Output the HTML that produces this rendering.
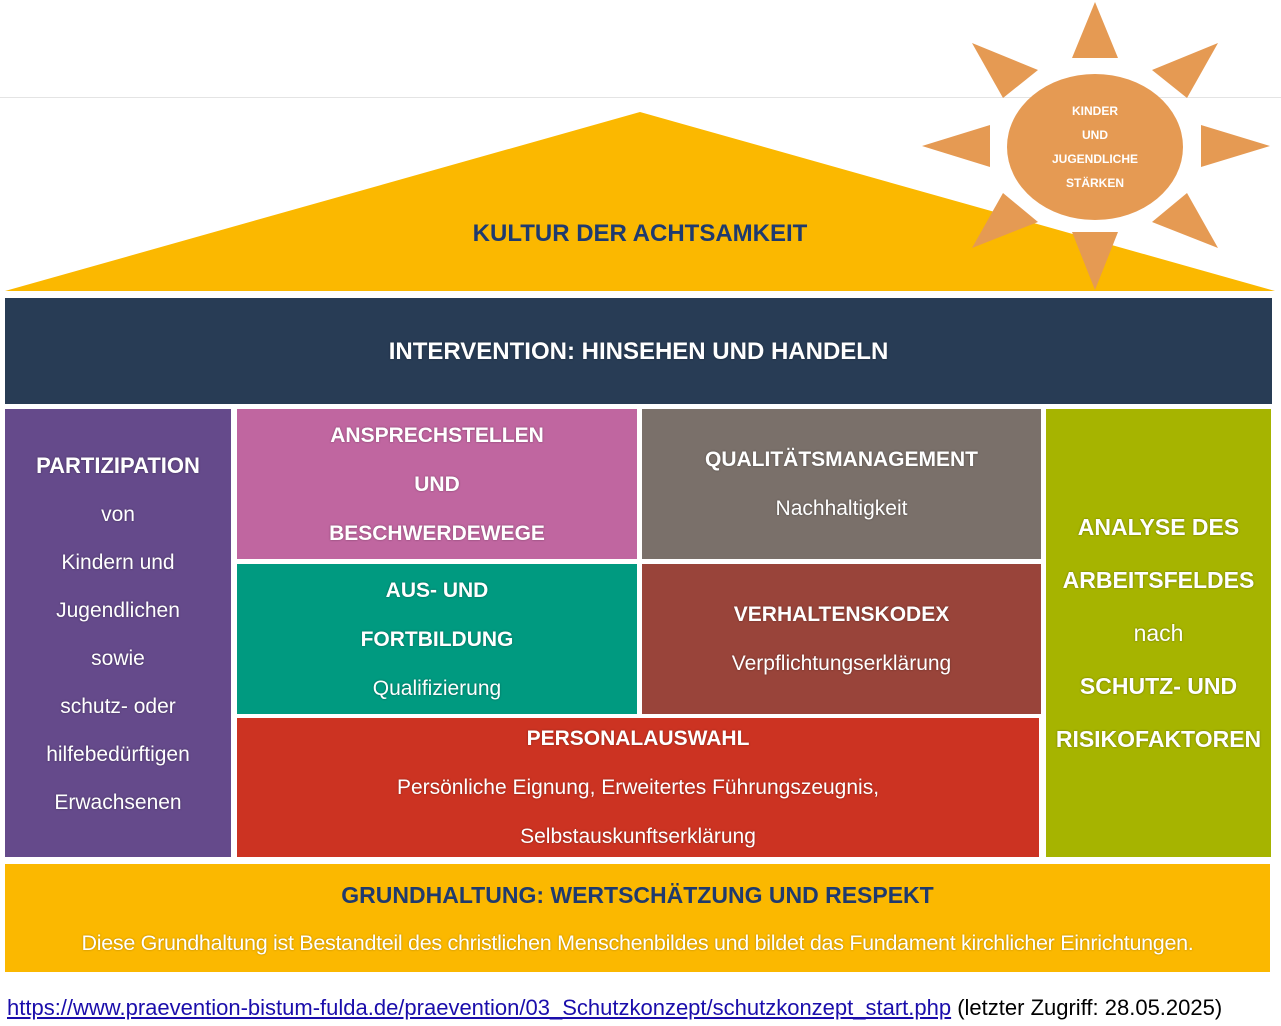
<!DOCTYPE html>
<html><head><meta charset="utf-8"><style>
body{margin:0;width:1281px;height:1026px;background:#fff;position:relative;overflow:hidden;font-family:"Liberation Sans",sans-serif}
.b{position:absolute;color:#fff;text-align:center;display:flex;flex-direction:column;justify-content:center;align-items:center;text-shadow:0 0 2px rgba(0,0,0,.35)}
.b div{line-height:49px;font-size:21px}
.h{font-weight:bold}
</style></head><body>
<div style="position:absolute;left:0;top:97px;width:1281px;height:1px;background:#e4e4e4"></div>
<svg style="position:absolute;left:0;top:0" width="1281" height="300">
<polygon points="5,291 640,112 1275,291" fill="#FBB800"/>
<g fill="#E59A53">
<ellipse cx="1095" cy="147" rx="88" ry="73"/>
<polygon points="1072,58 1118,58 1095,2"/>
<polygon points="1201,125 1201,167 1270,146"/>
<polygon points="990,125 990,167 922,146"/>
<polygon points="1072,232 1118,232 1095,290"/>
<polygon points="972,43 1038,70 1003,98"/>
<polygon points="1218,43 1152,70 1187,98"/>
<polygon points="972,248 1003,193 1038,222"/>
<polygon points="1218,248 1187,193 1152,222"/>
</g>
<g fill="#fff" font-family="Liberation Sans,sans-serif" font-weight="bold" font-size="12" text-anchor="middle">
<text x="1095" y="115">KINDER</text><text x="1095" y="139">UND</text><text x="1095" y="163">JUGENDLICHE</text><text x="1095" y="187">STÄRKEN</text>
</g>
<text x="640" y="241" text-anchor="middle" font-family="Liberation Sans,sans-serif" font-weight="bold" font-size="24" fill="#1F3A6E">KULTUR DER ACHTSAMKEIT</text>
</svg>
<div class="b" style="left:5px;top:298px;width:1267px;height:106px;background:#283C55"><div class="h" style="font-size:24px">INTERVENTION: HINSEHEN UND HANDELN</div></div>
<div class="b" style="left:5px;top:409px;width:226px;height:448px;background:#654A8B;justify-content:flex-start;padding-top:32px;box-sizing:border-box">
<div class="h" style="font-size:22px;line-height:50px">PARTIZIPATION</div><div style="line-height:48px">von</div><div style="line-height:48px">Kindern und</div><div style="line-height:48px">Jugendlichen</div><div style="line-height:48px">sowie</div><div style="line-height:48px">schutz- oder</div><div style="line-height:48px">hilfebedürftigen</div><div style="line-height:48px">Erwachsenen</div></div>
<div class="b" style="left:237px;top:409px;width:400px;height:150px;background:#C066A0"><div class="h">ANSPRECHSTELLEN</div><div class="h">UND</div><div class="h">BESCHWERDEWEGE</div></div>
<div class="b" style="left:642px;top:409px;width:399px;height:150px;background:#7A706A"><div class="h">QUALITÄTSMANAGEMENT</div><div>Nachhaltigkeit</div></div>
<div class="b" style="left:237px;top:564px;width:400px;height:150px;background:#009A80"><div class="h">AUS- UND</div><div class="h">FORTBILDUNG</div><div>Qualifizierung</div></div>
<div class="b" style="left:642px;top:564px;width:399px;height:150px;background:#99443A"><div class="h">VERHALTENSKODEX</div><div>Verpflichtungserklärung</div></div>
<div class="b" style="left:237px;top:718px;width:802px;height:139px;background:#CC3322"><div class="h">PERSONALAUSWAHL</div><div>Persönliche Eignung, Erweitertes Führungszeugnis,</div><div>Selbstauskunftserklärung</div></div>
<div class="b" style="left:1046px;top:409px;width:225px;height:448px;background:#A6B400"><div class="h" style="font-size:23px;line-height:53px">ANALYSE DES</div><div class="h" style="font-size:23px;line-height:53px">ARBEITSFELDES</div><div style="font-size:23px;line-height:53px">nach</div><div class="h" style="font-size:23px;line-height:53px">SCHUTZ- UND</div><div class="h" style="font-size:23px;line-height:53px">RISIKOFAKTOREN</div></div>
<div style="position:absolute;left:5px;top:864px;width:1265px;height:108px;background:#FBB800;text-align:center">
<div style="font-weight:bold;font-size:23px;color:#1F3A6E;margin-top:18px">GRUNDHALTUNG: WERTSCHÄTZUNG UND RESPEKT</div>
<div style="color:#fff;font-size:21.5px;margin-top:22px;letter-spacing:-0.3px;white-space:nowrap;text-shadow:0 0 2px rgba(0,0,0,.3)">Diese Grundhaltung ist Bestandteil des christlichen Menschenbildes und bildet das Fundament kirchlicher Einrichtungen.</div></div>
<div style="position:absolute;left:7px;top:995px;font-size:22px;white-space:nowrap"><span style="color:#1a0dab;text-decoration:underline">https://www.praevention-bistum-fulda.de/praevention/03_Schutzkonzept/schutzkonzept_start.php</span> (letzter Zugriff: 28.05.2025)</div>
</body></html>
